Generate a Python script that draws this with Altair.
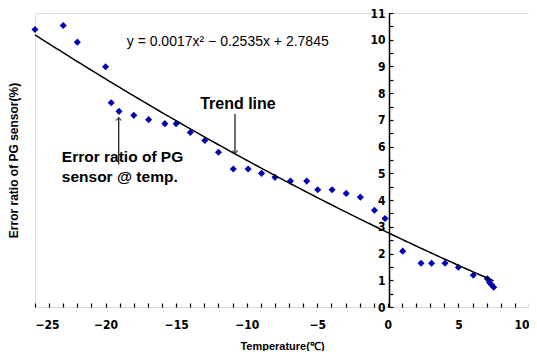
import altair as alt
import pandas as pd

temps = [-25, -23, -22, -20, -19.6, -19.05, -18, -16.95, -15.8, -15, -14, -12.97, -12, -10.95, -9.9,
         -8.95, -8, -6.9, -5.75, -4.97, -3.95, -2.95, -1.95, -0.95, -0.2,
         1.05, 2.35, 3.1, 4.05, 5.0, 6.05, 7.05, 7.2, 7.33, 7.5]
errors = [10.38, 10.53, 9.91, 8.99, 7.64, 7.32, 7.17, 7.01, 6.86, 6.86, 6.53, 6.23, 5.79, 5.16, 5.16,
          5.0, 4.85, 4.71, 4.71, 4.39, 4.39, 4.25, 4.11, 3.62, 3.31,
          2.09, 1.64, 1.64, 1.64, 1.49, 1.19, 1.06, 0.92, 0.84, 0.74]
coef = [0.0017, -0.2535, 2.7845]  # trend line y = a x^2 + b x + c
trend_range = [-25, 7.5]

x_ticks = list(range(-25, 11))
x_labels = [-25, -20, -15, -10, -5, 0, 5, 10]
y_ticks = [i * 0.5 for i in range(23)]
y_labels = list(range(12))

equation = "y = 0.0017x² − 0.2535x + 2.7845"

W, H = 494, 294
pts = pd.DataFrame({"t": temps, "e": errors})

xs = alt.Scale(domain=[-25, 10], nice=False, zero=False)
ys = alt.Scale(domain=[0, 11], nice=False, zero=False)

FONT = "Liberation Sans"
NARROW = "Liberation Sans Narrow, Arial Narrow, DejaVu Sans Condensed, Liberation Sans"

points = alt.Chart(pts).mark_point(shape="diamond", filled=True, size=50, color="#0000B4", opacity=1).encode(
    x=alt.X("t:Q", scale=xs, axis=alt.Axis(
        orient="bottom", values=x_labels, ticks=False, grid=False, domain=False,
        labelFont=NARROW, labelFontWeight="bold", labelFontSize=12, labelColor="black",
        labelPadding=12, title="Temperature(℃)", titleFont=FONT, titleFontSize=11,
        titleFontWeight="bold", titleColor="black", titlePadding=10)),
    y=alt.Y("e:Q", scale=ys, axis=alt.Axis(
        orient="left", offset=-354, values=y_labels, ticks=False, grid=False,
        domain=True, domainColor="black", domainWidth=1.5,
        labelFont=NARROW, labelFontWeight="bold", labelFontSize=12, labelColor="black",
        labelPadding=4, title="Error ratio of PG sensor(%)", titleFont=FONT, titleFontSize=12,
        titleFontWeight="bold", titleColor="black", titleX=-369)),
)

trend = alt.Chart(alt.sequence(trend_range[0], trend_range[1] + 0.01, 0.25, as_="t")).transform_calculate(
    e=f"{coef[0]}*datum.t*datum.t + ({coef[1]})*datum.t + {coef[2]}"
).mark_line(color="black", strokeWidth=1.5).encode(
    x=alt.X("t:Q", scale=xs, axis=alt.Axis(
        orient="top", offset=-H, values=x_ticks, labels=False, domain=False, grid=False,
        ticks=True, tickSize=4, tickColor="black", tickWidth=1.2, title=None)),
    y=alt.Y("e:Q", scale=ys, axis=alt.Axis(
        orient="right", offset=-(W - 354), values=y_ticks, labels=False, domain=False, grid=False,
        ticks=True, tickSize=4, tickColor="black", tickWidth=1.2, title=None)),
)

ax = dict(scale=xs, axis=None)
ay = dict(scale=ys, axis=None)

text_err = alt.Chart(pd.DataFrame({"t": [-23.1, -23.1], "e": [5.6, 4.85],
                                   "txt": ["Error ratio of PG", "sensor @ temp."]})).mark_text(
    align="left", baseline="middle", font=FONT, fontSize=15.5, fontWeight="bold", color="black"
).encode(x=alt.X("t:Q", **ax), y=alt.Y("e:Q", **ay), text="txt:N")

text_trend = alt.Chart(pd.DataFrame({"t": [-13.3], "e": [7.6], "txt": ["Trend line"]})).mark_text(
    align="left", baseline="middle", font=FONT, fontSize=16, fontWeight="bold", color="black"
).encode(x=alt.X("t:Q", **ax), y=alt.Y("e:Q", **ay), text="txt:N")

text_eq = alt.Chart(pd.DataFrame({"t": [-18.5], "e": [9.93], "txt": [equation]})).mark_text(
    align="left", baseline="middle", font=FONT, fontSize=14, color="black"
).encode(x=alt.X("t:Q", **ax), y=alt.Y("e:Q", **ay), text="txt:N")

arrows = pd.DataFrame({"t": [-10.83, -19.07], "e1": [7.22, 5.33], "e2": [5.75, 7.08],
                       "shape": ["M -1 -1 L 0 0 L 1 -1", "M -1 1 L 0 0 L 1 1"]})
arrow_lines = alt.Chart(arrows).mark_rule(color="#222222", strokeWidth=1.3).encode(
    x=alt.X("t:Q", **ax), y=alt.Y("e1:Q", **ay), y2="e2:Q")
arrow_heads = alt.Chart(arrows).mark_point(filled=False, size=30, color="#222222", strokeWidth=1.3).encode(
    x=alt.X("t:Q", **ax), y=alt.Y("e2:Q", **ay),
    shape=alt.Shape("shape:N", scale=None))

chart = alt.layer(points, trend, text_eq, text_trend, text_err, arrow_lines, arrow_heads).resolve_axis(
    x="independent", y="independent"
).properties(
    width=W, height=H,
    autosize=alt.AutoSizeParams(type="none"),
    padding={"left": 27, "top": 5, "right": 0, "bottom": 44},
).configure_view(stroke="black", strokeWidth=1.5).configure(background="white")

chart.save("out.html", embed_options={"renderer": "svg", "actions": False})
